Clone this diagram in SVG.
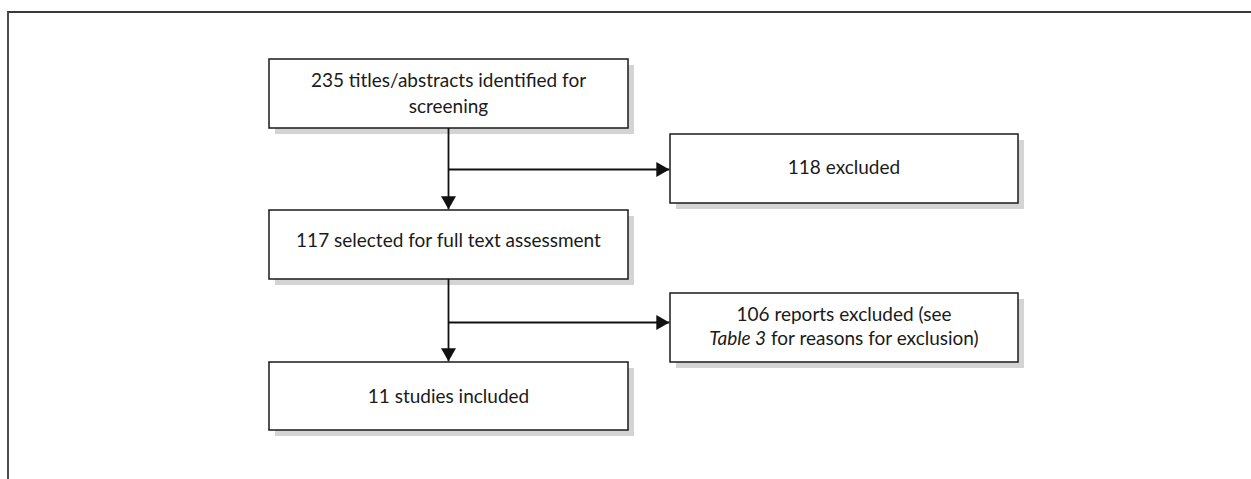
<svg xmlns="http://www.w3.org/2000/svg" width="1251" height="479" viewBox="0 0 1251 479">
<defs>
<marker id="arr" viewBox="0 0 13 15" refX="13" refY="7.5" markerWidth="13" markerHeight="15" markerUnits="userSpaceOnUse" orient="auto">
<path d="M0,0 L13,7.5 L0,15 Z" fill="#111"/>
</marker>
<style>
.shadow{fill:#d4d4d4;stroke:none}
.box{fill:#fff;stroke:#1a1a1a;stroke-width:1.5}
.t{font-family:Lato,"Open Sans","Liberation Sans",sans-serif;font-size:19px;fill:#1a1a1a;text-anchor:middle}
.c{fill:none;stroke:#111;stroke-width:1.8}
.frame{fill:none;stroke:#3a3a3a;stroke-width:1.8}
</style>
</defs>
<rect width="1251" height="479" fill="#fff"/>
<path class="frame" d="M8,479 V12 H1251"/>
<g id="n1">
<rect class="shadow" x="275" y="65" width="359" height="69"/>
<rect class="box" x="269" y="59" width="359" height="69"/>
<text class="t" x="448.5" y="86.5">235 titles/abstracts identified for</text>
<text class="t" x="448.5" y="112.5">screening</text>
</g>
<g id="n2">
<rect class="shadow" x="676" y="140" width="348" height="69"/>
<rect class="box" x="670" y="134" width="348" height="69"/>
<text class="t" x="844" y="173.5">118 excluded</text>
</g>
<g id="n3">
<rect class="shadow" x="275" y="216" width="359" height="69"/>
<rect class="box" x="269" y="210" width="359" height="69"/>
<text class="t" x="448.5" y="247">117 selected for full text assessment</text>
</g>
<g id="n4">
<rect class="shadow" x="676" y="299" width="348" height="69"/>
<rect class="box" x="670" y="293" width="348" height="69"/>
<text class="t" x="844" y="321">106 reports excluded (see</text>
<text class="t" x="844" y="345"><tspan font-style="italic">Table 3</tspan> for reasons for exclusion)</text>
</g>
<g id="n5">
<rect class="shadow" x="275" y="368" width="359" height="68"/>
<rect class="box" x="269" y="362" width="359" height="68"/>
<text class="t" x="448.5" y="402.5">11 studies included</text>
</g>
<g id="connectors">
<path class="c" d="M448.5,128 V209.3" marker-end="url(#arr)"/>
<path class="c" d="M448.5,169.5 H669.3" marker-end="url(#arr)"/>
<path class="c" d="M448.5,279 V361.3" marker-end="url(#arr)"/>
<path class="c" d="M448.5,322.5 H669.3" marker-end="url(#arr)"/>
</g>
</svg>
